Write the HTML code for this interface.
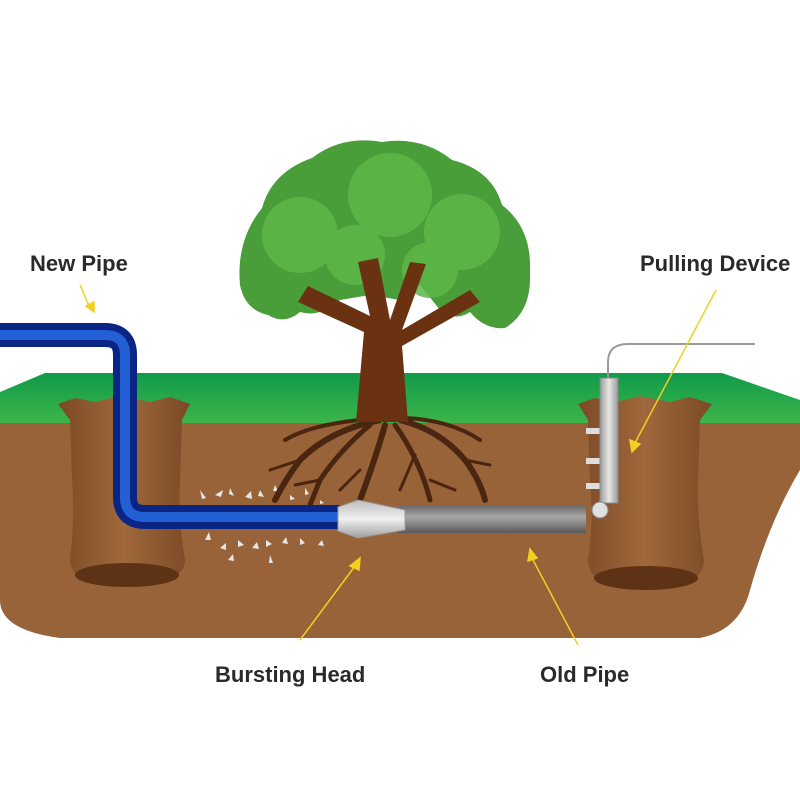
<!DOCTYPE html>
<html><head><style>body{margin:0;background:#fff}svg{display:block}text{font-family:"Liberation Sans",sans-serif;font-weight:bold;font-size:22px;fill:#2a2a2a}</style></head>
<body>
<svg width="800" height="800" viewBox="0 0 800 800" xmlns="http://www.w3.org/2000/svg">
<defs>
<linearGradient id="grass" x1="0" y1="0" x2="0" y2="1"><stop offset="0" stop-color="#119a4a"/><stop offset="1" stop-color="#3cb54a"/></linearGradient>
<linearGradient id="pit" x1="0" y1="0" x2="1" y2="0"><stop offset="0" stop-color="#7a4a26"/><stop offset="0.5" stop-color="#a0683c"/><stop offset="1" stop-color="#7a4a26"/></linearGradient>
<linearGradient id="gray" x1="0" y1="0" x2="0" y2="1"><stop offset="0" stop-color="#6a6a6a"/><stop offset="0.4" stop-color="#a8a8a8"/><stop offset="1" stop-color="#5a5a5a"/></linearGradient>
<linearGradient id="silver" x1="0" y1="0" x2="0" y2="1"><stop offset="0" stop-color="#bdbdbd"/><stop offset="0.5" stop-color="#f0f0f0"/><stop offset="1" stop-color="#a0a0a0"/></linearGradient>
<linearGradient id="silverV" x1="0" y1="0" x2="1" y2="0"><stop offset="0" stop-color="#9a9a9a"/><stop offset="0.5" stop-color="#e8e8e8"/><stop offset="1" stop-color="#9a9a9a"/></linearGradient>
</defs>
<path d="M0 410 L800 410 L800 470 Q770 520 750 590 Q740 630 700 638 L60 638 Q0 630 0 600 Z" fill="#986339"/>
<path d="M0 392 L45 373 L722 373 L800 400 L800 423 L0 423 Z" fill="url(#grass)"/>
<path d="M58 404 L75 398 L95 402 L120 396 L150 402 L170 397 L190 404 L182 420 L180 480 Q178 520 185 560 Q185 585 125 585 Q70 585 70 560 Q75 520 72 480 L70 420 Z" fill="url(#pit)"/>
<ellipse cx="127" cy="575" rx="52" ry="12" fill="#5e3214"/>
<path d="M578 404 L595 398 L615 402 L640 396 L670 402 L690 397 L712 404 L700 420 L698 480 Q697 520 704 560 Q704 588 645 588 Q588 588 588 560 Q594 520 590 480 L588 420 Z" fill="url(#pit)"/>
<ellipse cx="646" cy="578" rx="52" ry="12" fill="#5e3214"/>
<g fill="#e6e6e6">
<path d="M200 490l6 8-4 1z M215 495l8-5-2 7z M230 488l4 8-5-2z M245 497l6-6 1 8z M260 490l4 7-6-1z M275 485l3 6-5 0z M290 495l5 4-5 1z M305 488l4 6-4 1z M320 500l4 3-4 1z"/>
<path d="M205 540l4-8 2 8z M220 548l6-5 0 7z M238 540l6 5-6 2z M252 548l5-6 2 7z M266 540l6 4-6 3z M282 543l4-6 2 7z M300 538l5 5-5 2z M318 545l4-5 2 6z M228 560l5-6 1 7z M270 555l3 8-4 0z"/>
</g>
<g stroke="#4a2510" fill="none" stroke-linecap="round">
<path d="M380 420 Q330 430 300 460 Q285 480 275 500" stroke-width="6"/>
<path d="M370 425 Q340 450 320 480 L310 505" stroke-width="5"/>
<path d="M385 425 Q375 460 360 500" stroke-width="6"/>
<path d="M395 425 Q420 460 430 500" stroke-width="5"/>
<path d="M400 420 Q440 430 465 460 Q480 480 485 500" stroke-width="6"/>
<path d="M405 418 Q450 420 480 440" stroke-width="4"/>
<path d="M360 420 Q310 425 285 440" stroke-width="4"/>
<path d="M300 460 L270 470 M320 480 L295 485 M430 480 L455 490 M465 460 L490 465 M360 470 L340 490 M415 455 L400 490" stroke-width="3"/>
</g>
<!-- canopy -->
<path d="M240 285 Q236 240 262 208 Q272 172 312 158 Q342 135 382 142 Q422 136 452 160 Q492 170 502 205 Q532 228 530 272 Q532 312 505 328 Q485 330 470 312 Q455 322 440 310 L420 285 L400 300 L370 295 L340 300 Q320 318 300 312 Q285 325 268 315 Q245 310 240 285 Z" fill="#4a9e3a"/>
<g fill="#5cb848" opacity="0.85">
<circle cx="300" cy="235" r="38"/><circle cx="390" cy="195" r="42"/><circle cx="462" cy="232" r="38"/><circle cx="355" cy="255" r="30"/><circle cx="430" cy="270" r="28"/>
</g>
<g fill="#6b3212"><path d="M356 422 L364 332 L298 302 L308 286 L370 316 L358 262 L378 258 L390 320 L410 262 L426 264 L402 330 L470 290 L480 302 L402 346 L408 422 Z"/></g>
<path d="M0 335 L105 335 Q125 335 125 355 L125 497 Q125 517 145 517 L340 517" fill="none" stroke="#0b2585" stroke-width="24"/>
<path d="M0 335 L105 335 Q125 335 125 355 L125 497 Q125 517 145 517 L340 517" fill="none" stroke="#2360d6" stroke-width="10"/>
<rect x="398" y="506" width="188" height="27" fill="url(#gray)"/>
<path d="M338 507 L358 500 L405 510 L405 530 L358 538 L338 531 Z" fill="url(#silver)" stroke="#999" stroke-width="1"/>
<path d="M608 380 L608 362 Q608 344 628 344 L755 344" fill="none" stroke="#9a9a9a" stroke-width="2"/>
<rect x="586" y="428" width="16" height="6" fill="#ddd"/>
<rect x="586" y="458" width="16" height="6" fill="#ddd"/>
<rect x="586" y="483" width="16" height="6" fill="#ddd"/>
<rect x="600" y="378" width="18" height="125" fill="url(#silverV)" stroke="#888" stroke-width="1"/>
<circle cx="600" cy="510" r="8" fill="#e0e0e0" stroke="#888"/>
<g stroke="#f2d020" stroke-width="1.5" fill="#f2d020">
<line x1="80" y1="285" x2="90" y2="308"/><path d="M86 306 L94 312 L94 302 Z"/>
<line x1="716" y1="290" x2="635" y2="443"/><path d="M630 440 L632 452 L640 444 Z"/>
<line x1="300" y1="640" x2="355" y2="566"/><path d="M350 566 L360 558 L359 570 Z"/>
<line x1="578" y1="645" x2="532" y2="558"/><path d="M528 561 L530 549 L537 558 Z"/>
</g>
<text x="30" y="271">New Pipe</text>
<text x="640" y="271">Pulling Device</text>
<text x="215" y="682">Bursting Head</text>
<text x="540" y="682">Old Pipe</text>
</svg>
</body></html>
